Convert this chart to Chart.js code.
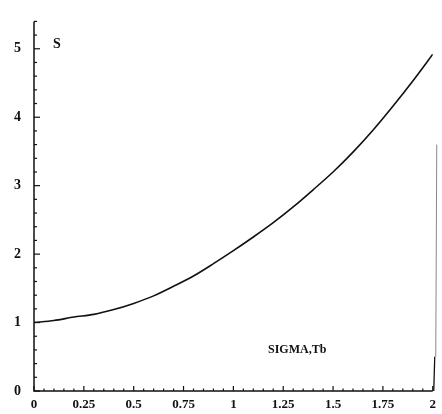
<!DOCTYPE html>
<html><head><meta charset="utf-8">
<script src="https://cdn.jsdelivr.net/npm/chart.js@4.4.1/dist/chart.umd.min.js"></script>
<style>html,body{margin:0;padding:0;background:#fff}#wrap{width:442px;height:414px}</style>
</head><body><div id="wrap"><canvas id="c" width="442" height="414"></canvas></div>
<script>
const xValues = [0,0.1,0.2,0.3,0.4,0.5,0.6,0.7,0.8,0.9,1.0,1.1,1.2,1.3,1.4,1.5,1.6,1.7,1.8,1.9,2.0];
const sValues = [1.0,1.03,1.08,1.12,1.19,1.28,1.39,1.53,1.68,1.86,2.05,2.25,2.46,2.69,2.94,3.20,3.49,3.81,4.16,4.53,4.92];
const xTickValues = [0,0.25,0.5,0.75,1,1.25,1.5,1.75,2];
const xTickLabels = ["0","0.25","0.5","0.75","1","1.25","1.5","1.75","2"];
const yTickValues = [0,1,2,3,4,5];
const yTickLabels = ["0","1","2","3","4","5"];
const yLabelText = "S";
const xLabelText = "SIGMA,Tb";

const ink = '#111';
const axesPlugin = {
  id:'axesPlugin',
  afterDraw(chart){
    const ctx = chart.ctx, xs = chart.scales.x, ys = chart.scales.y, a = chart.chartArea;
    ctx.save();
    ctx.strokeStyle = ink; ctx.lineWidth = 1.5;
    ctx.beginPath();
    ctx.moveTo(a.left, ys.getPixelForValue(ys.max)); ctx.lineTo(a.left, a.bottom);
    ctx.lineTo(a.right, a.bottom);
    ctx.stroke();
    // partial right border
    ctx.strokeStyle = '#888'; ctx.lineWidth = 1;
    ctx.beginPath();
    ctx.moveTo(a.right + 4, ys.getPixelForValue(3.6)); ctx.lineTo(a.right + 3, ys.getPixelForValue(0.5));
    ctx.stroke();
    ctx.strokeStyle = ink; ctx.lineWidth = 1.3;
    ctx.beginPath();
    ctx.moveTo(a.right + 2, ys.getPixelForValue(0.5)); ctx.lineTo(a.right + 1, a.bottom);
    ctx.stroke();
    ctx.lineWidth = 1.2;
    for (let i = 0; i <= 27; i++) {
      const v = i * 0.2; const p = ys.getPixelForValue(v);
      const major = Math.abs(v - Math.round(v)) < 1e-6;
      ctx.beginPath(); ctx.moveTo(a.left, p); ctx.lineTo(a.left + (major ? 6 : 3), p); ctx.stroke();
    }
    for (let i = 0; i <= 40; i++) {
      const v = i * 0.05; const p = xs.getPixelForValue(v);
      const major = (i % 5 === 0);
      ctx.beginPath(); ctx.moveTo(p, a.bottom); ctx.lineTo(p, a.bottom - (major ? 5 : 2.5)); ctx.stroke();
    }
    ctx.fillStyle = ink;
    ctx.textAlign = 'center'; ctx.textBaseline = 'middle';
    ctx.font = 'bold 14px "Liberation Serif", serif';
    ctx.fillText(yLabelText, a.left + 23, ys.getPixelForValue(5.06));
    ctx.font = 'bold 12px "Liberation Serif", serif';
    ctx.fillText(xLabelText, xs.getPixelForValue(1.32), ys.getPixelForValue(0.6));
    ctx.restore();
  }
};

new Chart(document.getElementById('c'), {
  type:'line',
  data:{ datasets:[{ data: xValues.map((x,i)=>({x:x,y:sValues[i]})), borderColor:ink, borderWidth:1.6,
    pointRadius:0, tension:0.3, fill:false }]},
  options:{
    responsive:false, animation:false, devicePixelRatio:1,
    layout:{padding:{left:0,right:6,top:9,bottom:0}},
    plugins:{legend:{display:false}, tooltip:{enabled:false}},
    scales:{
      x:{ type:'linear', min:0, max:2,
        afterBuildTicks(s){ s.ticks = xTickValues.map(v=>({value:v})); },
        afterFit(s){ s.height = 23; },
        grid:{display:false, drawTicks:false}, border:{display:false},
        ticks:{ padding:6, color:ink, font:{family:'"Liberation Serif", serif', weight:'bold', size:13},
          callback(v){ const i = xTickValues.indexOf(v); return i>=0 ? xTickLabels[i] : ''; },
          maxRotation:0, autoSkip:false }
      },
      y:{ type:'linear', min:0, max:5.4,
        afterBuildTicks(s){ s.ticks = yTickValues.map(v=>({value:v})); },
        afterFit(s){ s.width = 34; },
        grid:{display:false, drawTicks:false}, border:{display:false},
        ticks:{ padding:13, color:ink, font:{family:'"Liberation Serif", serif', weight:'bold', size:14},
          callback(v){ const i = yTickValues.indexOf(v); return i>=0 ? yTickLabels[i] : ''; }, autoSkip:false }
      }
    }
  },
  plugins:[axesPlugin]
});
</script></body></html>
